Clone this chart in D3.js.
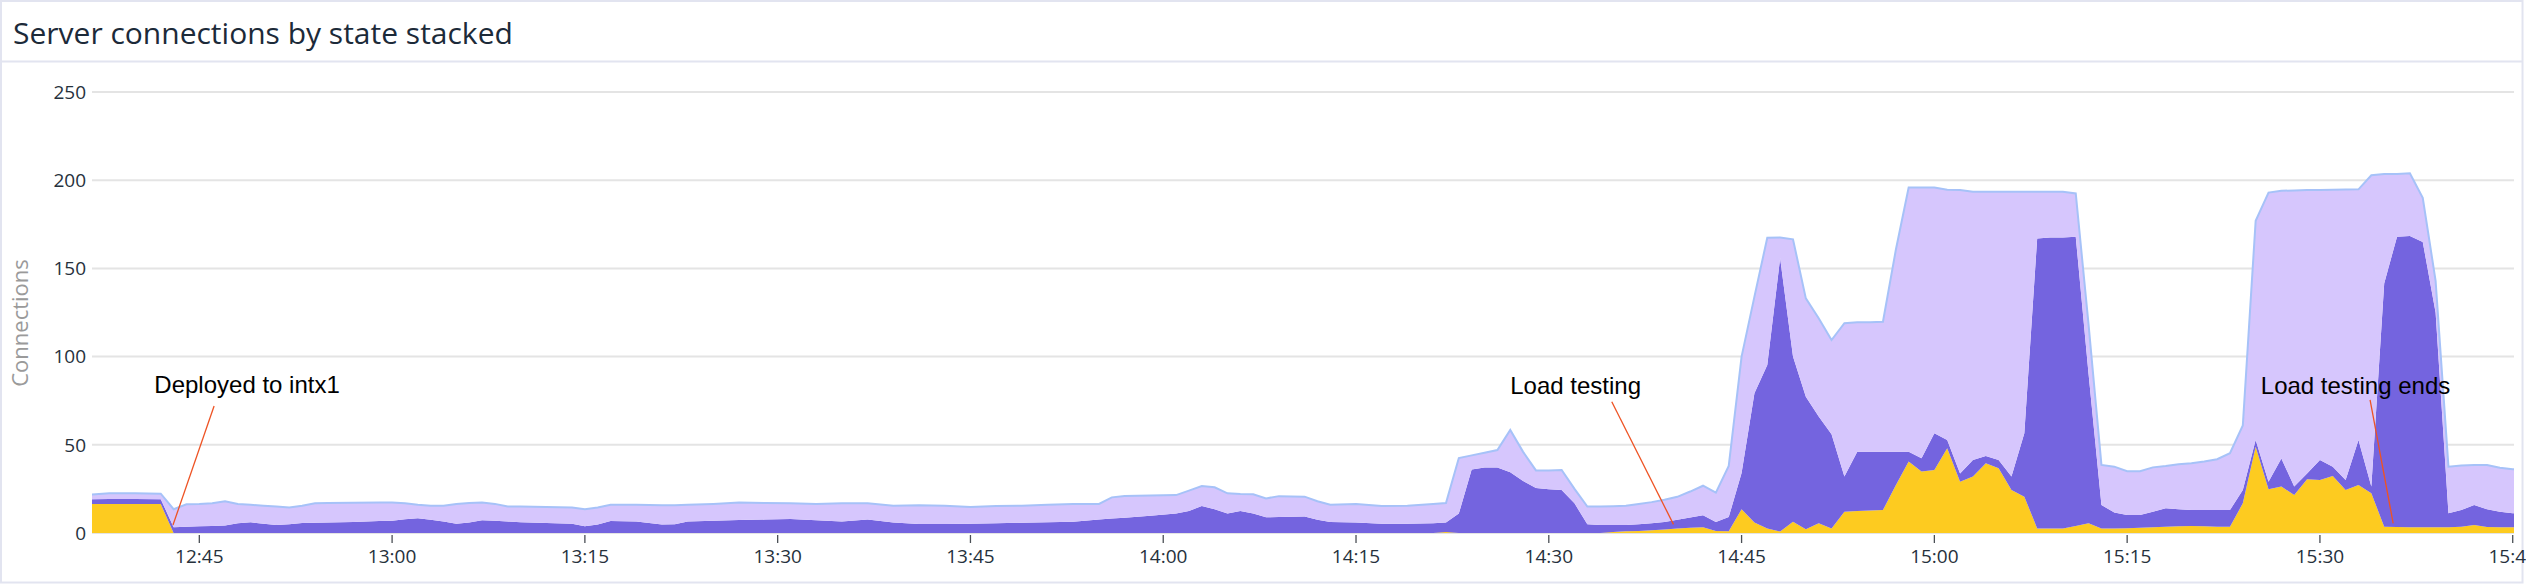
<!DOCTYPE html>
<html><head><meta charset="utf-8">
<script src="https://cdn.jsdelivr.net/npm/d3@7"></script>
<style>
html,body{margin:0;padding:0;background:#fff;overflow:hidden;}
svg{display:block;}
</style></head><body>
<svg id="chart" width="2526" height="584"></svg>
<script>
// ---------- DATA ----------
const chartTitle = "Server connections by state stacked";
const yAxisTitle = "Connections";
const times = [
"12:36","12:38","12:40","12:42","12:43","12:44",
"12:45","12:46","12:47","12:48","12:49","12:50","12:51","12:52","12:53","12:54","12:55","12:57","12:59",
"13:00","13:01","13:02","13:03","13:04","13:05","13:06","13:07","13:08","13:09","13:10","13:12","13:14",
"13:15","13:16","13:17","13:19","13:21","13:22","13:23","13:25","13:27","13:29",
"13:31","13:33","13:35","13:37","13:39","13:41","13:43",
"13:45","13:47","13:49","13:51","13:53","13:55","13:56","13:57","13:59",
"14:01","14:02","14:03","14:04","14:05","14:06","14:07","14:08","14:09","14:11","14:12","14:13",
"14:15","14:17","14:19","14:21","14:22","14:23","14:24","14:25","14:26","14:27","14:28","14:29",
"14:30","14:31","14:32","14:33","14:34","14:35","14:36","14:37","14:38","14:39","14:40","14:41","14:42","14:43","14:44",
"14:45","14:46","14:47","14:48","14:49","14:50","14:51","14:52","14:53","14:54","14:55","14:56","14:57","14:58","14:59",
"15:00","15:01","15:02","15:03","15:04","15:05","15:06","15:07","15:08","15:09","15:10","15:11","15:12","15:13","15:14",
"15:15","15:16","15:17","15:18","15:19","15:20","15:21","15:22","15:23","15:24","15:25","15:26","15:27","15:28","15:29",
"15:30","15:31","15:32","15:33","15:34","15:35","15:36","15:37","15:38","15:39","15:40","15:41","15:42","15:43","15:44",
"15:45","15:46"
];
const seriesNames = ["time_wait","established","other"];
// bottom layer (yellow)
const timeWaitValues = [
16.4,16.4,16.4,16.4,0,0,
0,0,0,0,0,0,0,0,0,0,0,0,0,
0,0,0,0,0,0,0,0,0,0,0,0,0,
0,0,0,0,0,0,0,0,0,0,
0,0,0,0,0,0,0,
0,0,0,0,0,0,0,0,0,
0,0,0,0,0,0,0,0,0,0,0,0,
0,0,0,0,0.5,0,0,0,0,0,0,0,
0,0,0,0,0,0.5,1.0,1.2,1.5,2.0,2.5,3.0,3.2,1.2,1.0,
13.4,5.9,2.6,0.8,6.4,2.1,5.5,2.6,12.1,12.5,12.8,13.1,27.0,40.5,34.8,
35.7,48.0,29.1,32.0,39.5,36.7,24.4,20.6,2.6,2.6,2.6,4.0,5.5,2.6,2.6,
2.7,3.0,3.2,3.5,3.8,4.0,3.8,3.6,3.6,16.8,48.9,24.8,26.3,21.6,30.4,
30.0,32.3,24.4,27.2,22.5,3.6,3.4,3.2,3.2,3.2,3.2,3.5,4.6,3.4,3.2,
3.2,3.2
];
// middle layer (dark purple)
const establishedValues = [
2.7,2.9,2.9,2.8,3.3,3.6,
3.8,4.0,4.2,5.5,6.1,5.2,4.6,5.0,5.6,5.8,6.0,6.2,6.8,
7.0,7.8,8.3,7.5,6.5,5.3,6.0,7.2,7.0,6.5,6.1,5.6,5.2,
3.8,4.8,6.8,6.5,4.8,5.0,6.5,7.0,7.4,7.6,
8.0,7.2,6.5,7.6,6.0,5.1,5.1,
5.3,5.5,5.8,6.1,6.4,7.7,8.2,8.6,9.8,
11.0,12.5,15.3,13.5,11.1,12.5,11.0,8.9,9.1,9.3,7.5,6.3,
6.0,5.2,5.3,5.5,5.5,11.0,36.0,37.2,37.2,34.5,29.5,25.5,
24.8,24.4,16.8,5.0,4.6,4.0,3.5,3.8,4.0,4.3,5.0,5.8,6.8,5.0,8.0,
20.6,73.3,92.7,154.9,93.6,75.2,60.5,53.4,19.9,33.6,33.3,33.0,19.1,5.6,7.6,
20.8,4.7,4.7,9.4,4.2,4.7,7.6,35.9,164.4,164.9,164.9,164.0,84.5,13.3,9.0,
7.5,7.2,8.8,10.5,9.7,9.0,9.2,9.4,9.4,7.6,3.8,4.3,16.0,4.7,3.4,
11.4,5.3,5.6,25.5,3.8,137.9,164.6,165.2,161.8,121.8,8.0,9.5,11.3,10.1,8.8,
8.0,7.8
];
// top layer (light purple)
const otherValues = [
2.4,3.3,3.3,3.1,10.2,12.7,
12.7,12.9,13.8,11.0,9.9,10.3,10.4,9.5,9.9,11.1,11.0,11.0,10.5,
10.3,9.0,7.7,7.9,9.0,11.2,11.0,10.1,9.5,8.5,8.9,9.2,9.3,
9.7,9.7,9.2,9.5,11.0,10.8,9.5,9.5,9.9,9.4,
8.9,9.3,10.4,9.3,9.5,10.6,10.4,
9.5,9.8,9.7,9.9,10.0,8.8,12.0,12.4,11.5,
10.5,11.5,11.3,12.4,11.4,9.6,11.0,10.7,11.8,11.3,10.5,9.7,
10.4,10.1,10.2,10.9,11.0,31.5,8.0,8.3,9.8,23.9,16.5,10.0,
10.7,11.3,8.2,10.0,10.4,10.7,11.0,11.5,12.0,12.5,13.0,14.7,16.8,16.7,29.0,
66.0,54.8,72.1,11.8,66.5,55.7,55.7,53.4,86.9,73.4,73.4,73.7,114.3,149.8,153.5,
139.4,141.9,160.7,152.1,149.8,152.1,161.5,137.0,26.5,26.0,26.0,24.5,28.0,22.7,26.0,
24.8,24.8,25.2,24.0,25.5,26.5,27.5,28.8,32.2,36.6,124.3,163.9,151.7,167.9,160.7,
153.1,157.0,164.7,142.1,176.5,62.0,35.5,35.5,25.0,18.0,26.4,25.2,22.7,25.1,25.0,
24.9,25.0
];
const yTicks = [0, 50, 100, 150, 200, 250];
const annotationLabels = ["Deployed to intx1", "Load testing", "Load testing ends"];
const annotationPointTimes = ["12:42:57", "14:39:42", "15:35:42"];
const annotationPointValues = [4.5, 4.9, 5.5];
const annotationLineTopTimes = ["12:46:09", "14:34:54", "15:33:54"];
const annotationLineTopValues = [72, 74.4, 75.4];
const annotationTextTimes = ["12:41:30", "14:27:00", "15:25:24"];
const annotationTextValues = [79.4, 78.6, 78.6];

// ---------- LAYOUT ----------
const W = 2526, H = 584;
const plot = {left: 92, right: 2514, top: 92, bottom: 533};
const colors = {time_wait: "#FDCB20", established: "#7464DF", other: "#D6C6FD"};

const parseHM = d3.timeParse("%H:%M");
const parseHMS = d3.timeParse("%H:%M:%S");
const table = times.map((t, i) => ({
  time: parseHM(t),
  time_wait: timeWaitValues[i],
  established: establishedValues[i],
  other: otherValues[i]
}));

const x = d3.scaleTime()
  .domain([parseHMS("12:36:39"), parseHMS("15:45:06")])
  .range([plot.left, plot.right]);
const y = d3.scaleLinear().domain([0, 250]).range([plot.bottom, plot.top]);

const svg = d3.select("#chart");
const font = "'Open Sans', 'Noto Sans', sans-serif";

// panel frame
svg.append("rect").attr("x", 1).attr("y", 1).attr("width", 2521.5).attr("height", 581.5)
  .attr("fill", "#fff").attr("stroke", "#e2e4f0").attr("stroke-width", 2);
svg.append("line").attr("x1", 1).attr("x2", 2522.5).attr("y1", 61.5).attr("y2", 61.5)
  .attr("stroke", "#e2e4f0").attr("stroke-width", 2);

svg.append("text").attr("x", 13).attr("y", 44)
  .attr("font-family", font).attr("font-size", 30).attr("fill", "#1c2a39")
  .text(chartTitle);

// gridlines
svg.append("g").selectAll("line").data(yTicks).join("line")
  .attr("x1", plot.left).attr("x2", plot.right)
  .attr("y1", d => y(d)).attr("y2", d => y(d))
  .attr("stroke", "#e4e4e4").attr("stroke-width", 2);

svg.append("g").selectAll("text").data(yTicks).join("text")
  .attr("x", 86).attr("y", d => y(d)).attr("dy", "0.36em")
  .attr("text-anchor", "end").attr("font-family", font).attr("font-size", 19)
  .attr("fill", "#26313c").text(d => d);

svg.append("text")
  .attr("transform", "translate(28,323) rotate(-90)")
  .attr("text-anchor", "middle").attr("font-family", font).attr("font-size", 22)
  .attr("fill", "#9a9a9a").text(yAxisTitle);

// clip
svg.append("clipPath").attr("id", "plotclip").append("rect")
  .attr("x", plot.left).attr("y", 60).attr("width", plot.right - plot.left).attr("height", plot.bottom - 60 + 1);

const stack = d3.stack().keys(seriesNames);
const layers = stack(table);
const area = d3.area().x(d => x(d.data.time)).y0(d => y(d[0])).y1(d => y(d[1]));
const g = svg.append("g").attr("clip-path", "url(#plotclip)");
g.selectAll("path.layer").data(layers).join("path").attr("class", "layer")
  .attr("d", area).attr("fill", d => colors[d.key]);
const topLine = d3.line().x(d => x(d.data.time)).y(d => y(d[1]));
g.append("path").datum(layers[layers.length - 1]).attr("d", topLine)
  .attr("fill", "none").attr("stroke", "#a6c2f8").attr("stroke-width", 2);

// x axis ticks
const xTicks = x.ticks(d3.timeMinute.every(15));
const fmt = d3.timeFormat("%H:%M");
svg.append("g").selectAll("line").data(xTicks).join("line")
  .attr("x1", d => x(d)).attr("x2", d => x(d)).attr("y1", 535).attr("y2", 543)
  .attr("stroke", "#4a4f55").attr("stroke-width", 1.3);
svg.append("g").selectAll("text").data(xTicks).join("text")
  .attr("x", d => x(d)).attr("y", 563).attr("text-anchor", "middle")
  .attr("font-family", font).attr("font-size", 19).attr("fill", "#26313c")
  .text(d => fmt(d));

// annotations
const ann = svg.append("g");
annotationLabels.forEach((lab, i) => {
  ann.append("line")
    .attr("x1", x(parseHMS(annotationLineTopTimes[i]))).attr("y1", y(annotationLineTopValues[i]))
    .attr("x2", x(parseHMS(annotationPointTimes[i]))).attr("y2", y(annotationPointValues[i]))
    .attr("stroke", "#ee5324").attr("stroke-width", 1.3);
  ann.append("text")
    .attr("x", x(parseHMS(annotationTextTimes[i]))).attr("y", y(annotationTextValues[i]))
    .attr("font-family", "'Liberation Sans', Arial, Helvetica, sans-serif").attr("font-size", 24)
    .attr("fill", "#000").text(lab);
});
</script>
</body></html>
